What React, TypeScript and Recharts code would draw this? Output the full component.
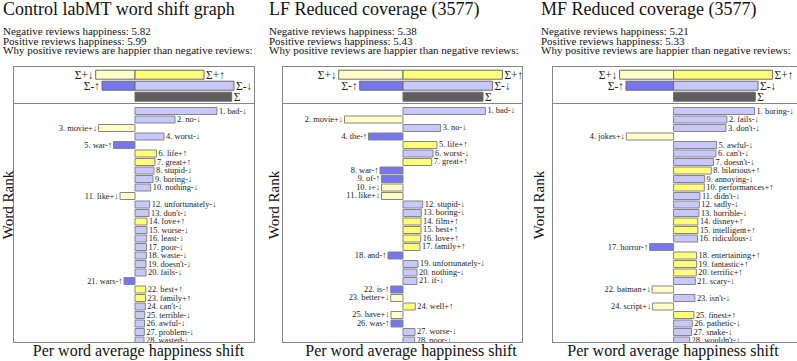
import React from "react";
import { BarChart, Bar, XAxis, YAxis, Cell, LabelList } from "recharts";

// ---- data (shift in relative units) ----
const controlWords = ["bad-↓", "no-↓", "movie+↓", "worst-↓", "war-↑", "life+↑", "great+↑", "stupid-↓", "boring-↓", "nothing-↓", "like+↓", "unfortunately-↓", "don't-↓", "love+↑", "worse-↓", "least-↓", "poor-↓", "waste-↓", "doesn't-↓", "fails-↓", "wars-↑", "best+↑", "family+↑", "can't-↓", "terrible-↓", "awful-↓", "problem-↓", "wasted-↓"];
const controlShifts = [82, 40, -36.5, 29, -21.5, 21.5, 20, 19, 18, 15.7, -15, 14.7, 14, 12, 12, 11.7, 11.5, 11.3, 11, 11, -11, 10.7, 10.5, 10.3, 9.7, 9.5, 9.3, 9];
const controlSumLeft = [-39.3, -33, 0];
const controlSumRight = [69, 99, 96.7];
const controlStats = ["Negative reviews happiness: 5.82", "Positive reviews happiness: 5.99", "Why positive reviews are happier than negative reviews:"];

const lfWords = ["bad-↓", "movie+↓", "no-↓", "the-↑", "life+↑", "worst-↓", "great+↑", "war-↑", "of-↑", "i+↓", "like+↓", "stupid-↓", "boring-↓", "film+↑", "best+↑", "love+↑", "family+↑", "and-↑", "unfortunately-↓", "nothing-↓", "if-↓", "is-↑", "better+↓", "well+↑", "have+↓", "was-↑", "worse-↓", "poor-↓"];
const lfShifts = [82.4, -58.5, 37.7, -34.5, 34, 30, 28.7, -23, -21.5, -21.5, -21.5, 19.7, 18.3, 18, 18, 17.7, 17, -15, 15, 14, 14, -12.3, -12.3, 12.3, -12, -12, 12, 11.7];
const lfSumLeft = [-64.3, -43.3, 0];
const lfSumRight = [99.4, 89.4, 80];
const lfStats = ["Negative reviews happiness: 5.38", "Positive reviews happiness: 5.43", "Why positive reviews are happier than negative reviews:"];

const mfWords = ["boring-↓", "fails-↓", "don't-↓", "jokes+↓", "awful-↓", "can't-↓", "doesn't-↓", "hilarious+↑", "annoying-↓", "performances+↑", "didn't-↓", "sadly-↓", "horrible-↓", "disney+↑", "intelligent+↑", "ridiculous-↓", "horror-↑", "entertaining+↑", "fantastic+↑", "terrific+↑", "scary-↓", "batman+↓", "isn't-↓", "script+↓", "finest+↑", "pathetic-↓", "snake-↓", "wouldn't-↓"];
const mfShifts = [81, 53.3, 52.3, -47.3, 43, 42.3, 40, 37.7, 31, 30.7, 26.3, 25.7, 25.3, 24.3, 24.3, 24, -24, 23, 23, 22.7, 21.7, -21.5, 21.3, -21, 20.3, 18.7, 18, 16];
const mfSumLeft = [-54, -47.6, 0];
const mfSumRight = [99, 84.4, 81.7];
const mfStats = ["Negative reviews happiness: 5.21", "Positive reviews happiness: 5.33", "Why positive reviews are happier than negative reviews:"];

const sumLeftLabels = ["Σ+↓", "Σ-↑", ""];
const sumRightLabels = ["Σ+↑", "Σ-↓", "Σ"];

const PLUS_UP = "#ffff78";
const PLUS_DOWN = "#ffffc8";
const MINUS_UP = "#7676f0";
const MINUS_DOWN = "#c8c8ff";
const SUM = "#5e5e5e";
const STROKE = "#858585";
const FONT = "Liberation Serif, Times New Roman, Times, serif";

const wordColor = (w: string) => {
  if (w.endsWith("+↑")) return PLUS_UP;
  if (w.endsWith("+↓")) return PLUS_DOWN;
  if (w.endsWith("-↑")) return MINUS_UP;
  return MINUS_DOWN;
};
const sumLeftColors = [PLUS_DOWN, MINUS_UP, "none"];
const sumRightColors = [PLUS_UP, MINUS_DOWN, SUM];

const edgeLabel = (labels: string[], side: "left" | "right", size: number, gap: number) => (props: any) => {
  const vb = props.viewBox ?? props;
  const x = Number(vb.x), w = Number(vb.width), y = Number(vb.y), h = Number(vb.height);
  const text = labels[props.index];
  if (!text) return null;
  const l = Math.min(x, x + w), r = Math.max(x, x + w);
  const onLeft = side === "left";
  return (
    <text x={onLeft ? l - gap : r + gap} y={y + h / 2} textAnchor={onLeft ? "end" : "start"} dominantBaseline="central" fontSize={size} style={{ fontFamily: FONT }} fill="#222">
      {text}
    </text>
  );
};

const wordLabel = (words: string[], shifts: number[]) => (props: any) => {
  const vb = props.viewBox ?? props;
  const x = Number(vb.x), w = Number(vb.width), y = Number(vb.y), h = Number(vb.height);
  const i = props.index;
  const l = Math.min(x, x + w), r = Math.max(x, x + w);
  const neg = shifts[i] < 0;
  return (
    <text x={neg ? l - 1.5 : r + 2} y={y + h / 2} textAnchor={neg ? "end" : "start"} dominantBaseline="central" fontSize={8.4} style={{ fontFamily: FONT }} fill="#222">
      {`${i + 1}. ${words[i]}`}
    </text>
  );
};

type PanelProps = {
  title: string;
  textX: number;
  rankX: number;
  axisX: number;
  frameLeft: number;
  frameWidth: number;
  domain: [number, number];
  stats: string[];
  words: string[];
  shifts: number[];
  sumLeft: number[];
  sumRight: number[];
};

const Panel = (p: PanelProps) => {
  const rows = p.words.map((w, i) => ({ rank: i + 1, word: w, shift: p.shifts[i] }));
  const sumRows = p.sumLeft.map((v, i) => ({ row: i, left: v, right: p.sumRight[i] }));
  return (
    <>
      <div style={{ position: "absolute", left: p.textX, top: 0, fontSize: 18, lineHeight: "18px", fontFamily: FONT, whiteSpace: "nowrap", color: "#111" }}>{p.title}</div>
      <div style={{ position: "absolute", left: p.textX, top: 27, fontSize: 11, lineHeight: "9.7px", fontFamily: FONT, whiteSpace: "nowrap", color: "#111" }}>
        {p.stats.map((s) => (
          <div key={s}>{s}</div>
        ))}
      </div>
      <div style={{ position: "absolute", left: p.frameLeft, top: 66, width: p.frameWidth, height: 38, overflow: "visible" }}>
        <BarChart width={p.frameWidth} height={38} data={sumRows} layout="vertical" stackOffset="sign" margin={{ top: 3.2, right: 0, bottom: 1.8, left: 0 }} style={{ overflow: "visible" }}>
          <XAxis type="number" domain={p.domain} hide allowDataOverflow />
          <YAxis type="category" dataKey="row" hide />
          <Bar dataKey="left" stackId="s" barSize={9} stroke="#6a6a6a" strokeWidth={1} isAnimationActive={false}>
            {sumRows.map((r, i) => (
              <Cell key={i} fill={sumLeftColors[i]} stroke={r.left === 0 ? "none" : "#6a6a6a"} />
            ))}
            <LabelList dataKey="left" content={edgeLabel(sumLeftLabels, "left", 11.5, 2)} />
          </Bar>
          <Bar dataKey="right" stackId="s" barSize={9} stroke="#6a6a6a" strokeWidth={1} isAnimationActive={false}>
            {sumRows.map((r, i) => (
              <Cell key={i} fill={sumRightColors[i]} />
            ))}
            <LabelList dataKey="right" content={edgeLabel(sumRightLabels, "right", 11.5, 2)} />
          </Bar>
        </BarChart>
      </div>
      <div style={{ position: "absolute", left: p.frameLeft, top: 104, width: p.frameWidth, height: 238, overflow: "hidden" }}>
        <BarChart width={p.frameWidth} height={240.5} data={rows} layout="vertical" margin={{ top: 2.5, right: 0, bottom: 0, left: 0 }}>
          <XAxis type="number" domain={p.domain} hide allowDataOverflow />
          <YAxis type="category" dataKey="rank" hide />
          <Bar dataKey="shift" barSize={7} stroke={STROKE} strokeWidth={1} isAnimationActive={false}>
            {rows.map((r, i) => (
              <Cell key={i} fill={wordColor(r.word)} />
            ))}
            <LabelList dataKey="shift" content={wordLabel(p.words, p.shifts)} />
          </Bar>
        </BarChart>
      </div>
      <div style={{ position: "absolute", left: p.frameLeft, top: 66, width: p.frameWidth, height: 38, border: `1px solid ${STROKE}`, boxSizing: "border-box", pointerEvents: "none" }} />
      <div style={{ position: "absolute", left: p.frameLeft, top: 103, width: p.frameWidth, height: 240, border: `1px solid ${STROKE}`, boxSizing: "border-box", pointerEvents: "none" }} />
      <div style={{ position: "absolute", left: p.rankX - 60, top: 205 - 9, width: 120, height: 18, textAlign: "center", fontSize: 15, lineHeight: "18px", fontFamily: FONT, transform: "rotate(-90deg)", color: "#111" }}>Word Rank</div>
      <div style={{ position: "absolute", left: p.axisX - 130, top: 342, width: 260, textAlign: "center", fontSize: 16, lineHeight: "18px", fontFamily: FONT, color: "#111", whiteSpace: "nowrap" }}>Per word average happiness shift</div>
    </>
  );
};

export default function App() {
  return (
    <div style={{ position: "absolute", left: 0, top: 0, width: 797, height: 361, overflow: "hidden", background: "#fff" }}>
      <Panel title="Control labMT word shift graph" textX={3} rankX={8} axisX={138.5} frameLeft={13} frameWidth={242} domain={[-122, 120]} stats={controlStats} words={controlWords} shifts={controlShifts} sumLeft={controlSumLeft} sumRight={controlSumRight} />
      <Panel title="LF Reduced coverage (3577)" textX={269} rankX={274} axisX={411} frameLeft={282.3} frameWidth={240.7} domain={[-121, 119.7]} stats={lfStats} words={lfWords} shifts={lfShifts} sumLeft={lfSumLeft} sumRight={lfSumRight} />
      <Panel title="MF Reduced coverage (3577)" textX={541} rankX={539} axisX={673} frameLeft={551.7} frameWidth={252} domain={[-121.6, 130.4]} stats={mfStats} words={mfWords} shifts={mfShifts} sumLeft={mfSumLeft} sumRight={mfSumRight} />
    </div>
  );
}
